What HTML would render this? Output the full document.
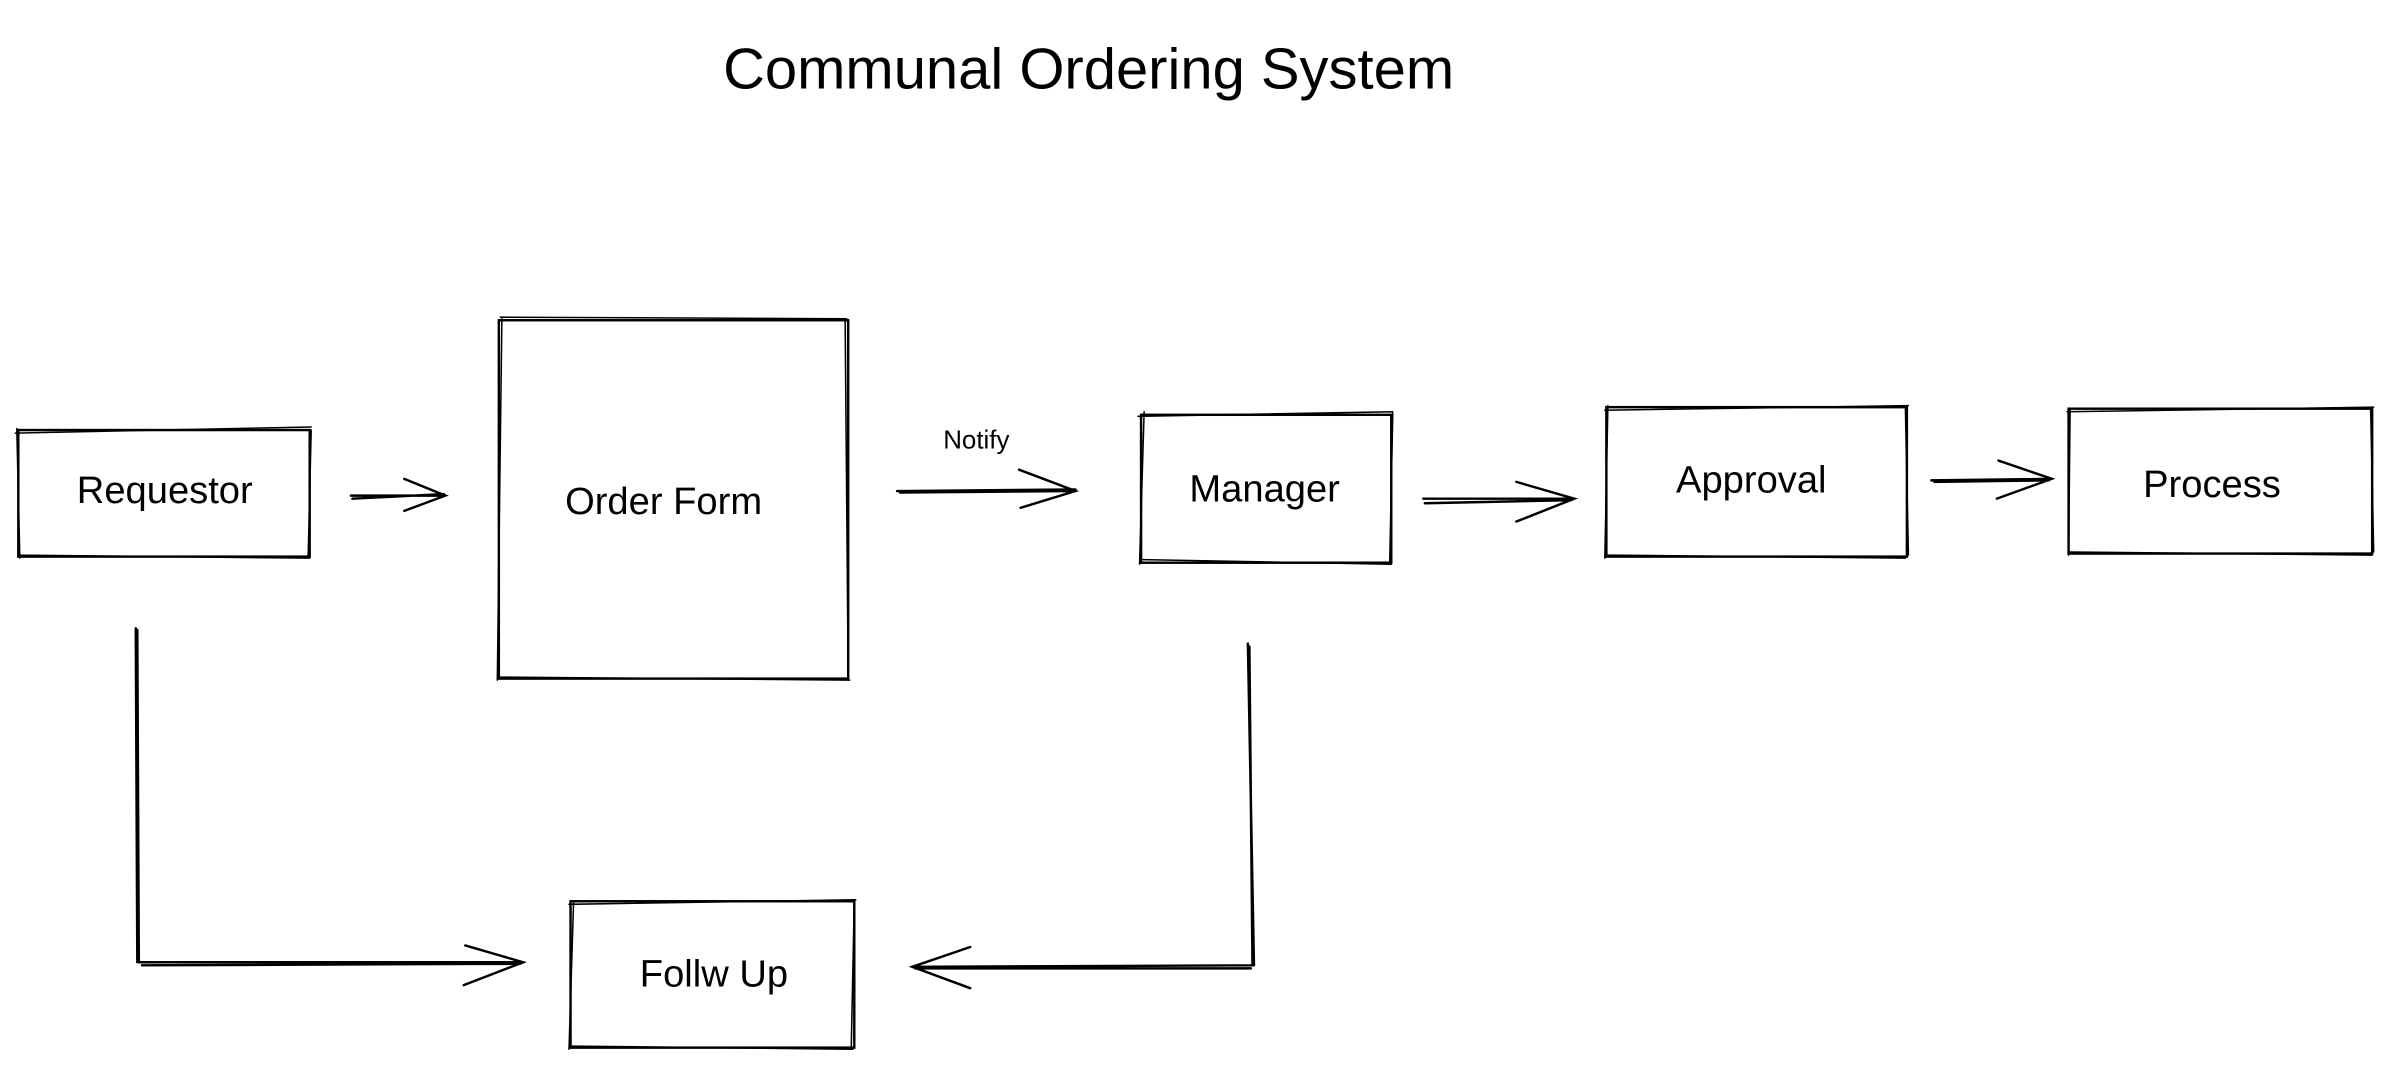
<!DOCTYPE html>
<html><head><meta charset="utf-8"><style>
html,body{margin:0;padding:0;background:#fff;width:2392px;height:1069px;overflow:hidden}
svg{display:block}
text{font-family:"Liberation Sans",sans-serif;fill:#000}
</style></head><body>
<svg width="2392" height="1069" viewBox="0 0 1568 701" preserveAspectRatio="none" xmlns="http://www.w3.org/2000/svg">
<g fill="none" stroke="#000" stroke-width="1.6" stroke-linecap="round">
<!-- boxes drawn twice for sketchy look -->
<rect x="12" y="282" width="191" height="83"/>
<path d="M10 284 L204 280 M13 364 L203 366 M11 281 L13 366 M204 282 L202 365" stroke-width="1"/>
<rect x="327" y="210" width="229" height="235"/>
<path d="M328 208 L555 209 M326 444 L557 446 M329 209 L326 446 M554 210 L556 444" stroke-width="1"/>
<rect x="748" y="272" width="164" height="97"/>
<path d="M746 273 L913 270 M749 367 L912 370 M750 270 L747 370 M913 271 L911 368" stroke-width="1"/>
<rect x="1053" y="267" width="197" height="98"/>
<path d="M1052 269 L1251 266 M1054 364 L1249 366 M1054 266 L1052 366 M1249 267 L1251 364" stroke-width="1"/>
<rect x="1356" y="268" width="199" height="95"/>
<path d="M1355 270 L1556 267 M1357 362 L1555 364 M1357 268 L1356 364 M1554 268 L1556 362" stroke-width="1"/>
<rect x="374" y="591" width="186" height="96"/>
<path d="M373 593 L561 590 M375 686 L559 688 M376 591 L373 688 M560 591 L558 687" stroke-width="1"/>
<!-- arrows -->
<path d="M230 325 L292 325 M231 327 L291 324 M265 314 L292 325 L265 335"/>
<path d="M588 322 L705 321 M590 323 L703 322 M668 308 L705 322 L669 333"/>
<path d="M933 327 L1032 327 M934 330 L1030 328 M994 316 L1032 327 L994 342"/>
<path d="M1266 315 L1345 314 M1268 316 L1343 315 M1310 302 L1345 314 L1309 327"/>
<path d="M89 412 L90 631 M90 413 L91 630 M91 631 L343 631 M93 633 L341 632 M305 620 L343 631 L304 646"/>
<path d="M818 422 L822 633 M819 424 L821 632 M822 633 L598 634 M820 635 L600 635 M636 621 L598 634 L636 648"/>
</g>
<text x="474" y="58" font-size="38">Communal Ordering System</text>
<text x="108" y="330" font-size="25" text-anchor="middle">Requestor</text>
<text x="435" y="337" font-size="25" text-anchor="middle">Order Form</text>
<text x="829" y="329" font-size="25" text-anchor="middle">Manager</text>
<text x="1148" y="323" font-size="25" text-anchor="middle">Approval</text>
<text x="1450" y="326" font-size="25" text-anchor="middle">Process</text>
<text x="468" y="647" font-size="25" text-anchor="middle">Follw Up</text>
<text x="640" y="294" font-size="17" text-anchor="middle">Notify</text>
</svg>
</body></html>
